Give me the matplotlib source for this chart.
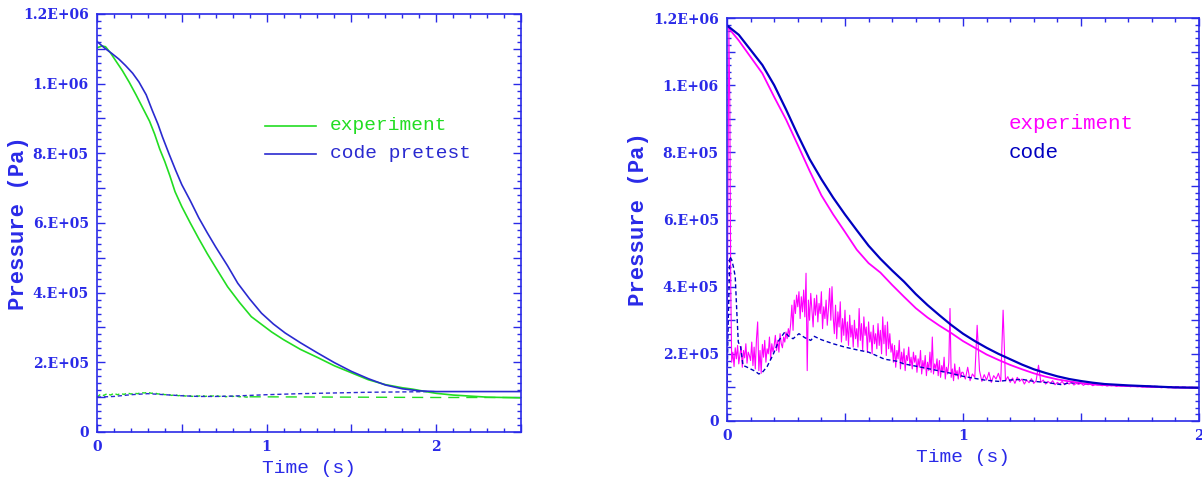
import numpy as np
import matplotlib
matplotlib.use("Agg")
import matplotlib.pyplot as plt
from matplotlib.ticker import MultipleLocator, FuncFormatter

AXC = '#2a2ae8'
GREEN = '#22dd22'
MAG = '#ff00ff'
BLUE_L = '#2a2ad0'
BLUE_R = '#0000c0'

# ---------------- left panel data (pressure in 1E5 Pa) ----------------
t_exp_l = [0, 0.03, 0.05, 0.08, 0.11, 0.15, 0.19, 0.23, 0.27, 0.31, 0.34, 0.37, 0.40,
           0.43, 0.46, 0.5, 0.55, 0.6, 0.65, 0.7, 0.77, 0.84, 0.91, 0.97, 1.03, 1.1,
           1.2, 1.3, 1.4, 1.5, 1.6, 1.7, 1.8, 1.86, 1.95, 2.0, 2.1, 2.2, 2.3, 2.4, 2.5]
p_exp_l = [11.03, 11.08, 11.06, 10.88, 10.66, 10.37, 10.04, 9.68, 9.3, 8.92, 8.55, 8.12,
           7.76, 7.35, 6.9, 6.47, 6.0, 5.55, 5.12, 4.72, 4.17, 3.72, 3.31, 3.09, 2.87,
           2.65, 2.37, 2.14, 1.9, 1.7, 1.5, 1.36, 1.27, 1.23, 1.15, 1.11, 1.06, 1.03,
           1.0, 0.99, 0.98]

t_code_l = [0, 0.045, 0.089, 0.13, 0.168, 0.21, 0.247, 0.29, 0.326, 0.36, 0.386, 0.425,
            0.464, 0.5, 0.55, 0.6, 0.65, 0.7, 0.77, 0.83, 0.9, 0.97, 1.04, 1.11, 1.2,
            1.3, 1.4, 1.5, 1.6, 1.7, 1.8, 1.9, 2.0, 2.5]
p_code_l = [11.21, 11.02, 10.86, 10.7, 10.52, 10.3, 10.05, 9.68, 9.23, 8.83, 8.47, 7.98,
            7.51, 7.1, 6.64, 6.15, 5.72, 5.31, 4.77, 4.27, 3.82, 3.41, 3.1, 2.84, 2.56,
            2.27, 1.99, 1.74, 1.53, 1.35, 1.24, 1.18, 1.16, 1.16]

# lower (downstream) traces, left
p_exp_low_l = [1.00, 1.08, 1.05, 1.10, 1.06, 1.11, 1.07, 1.10, 1.08, 1.12, 1.09,
               1.11, 1.10, 1.13, 1.12, 1.14,
               1.11, 1.12, 1.09, 1.10, 1.07,
               1.08, 1.05, 1.07, 1.04, 1.06,
               1.03, 1.05, 1.02, 1.04, 1.03,
               1.05, 1.02, 1.04, 1.03, 1.05,
               1.02, 1.04, 1.01, 1.03, 1.02,
               1.03, 1.01, 1.02, 1.00, 1.01]
t_exp_low_tail = [0.9, 1.5, 2.0, 2.5]
p_exp_low_tail = [1.01, 1.0, 0.99, 0.99]

t_code_low_l = [0, 0.1, 0.2, 0.3, 0.4, 0.5, 0.6, 0.7, 0.8, 0.9, 1.0, 1.2, 1.4, 1.6, 1.8, 2.0]
p_code_low_l = [1.0, 1.02, 1.07, 1.1, 1.07, 1.04, 1.02, 1.02, 1.03, 1.05, 1.07, 1.1, 1.12,
                1.14, 1.15, 1.16]

# ---------------- right panel data ----------------
t_main_r = [0, 0.05, 0.1, 0.15, 0.2, 0.25, 0.3, 0.35, 0.4, 0.45, 0.5, 0.55, 0.6, 0.65,
            0.7, 0.75, 0.8, 0.85, 0.9, 0.95, 1.0, 1.05, 1.1, 1.15, 1.2, 1.25, 1.3, 1.35,
            1.4, 1.45, 1.5, 1.55, 1.6, 1.7, 1.8, 1.9, 2.0]
p_code_r = [11.78, 11.5, 11.05, 10.6, 10.0, 9.28, 8.52, 7.8, 7.2, 6.65, 6.15, 5.68, 5.22,
            4.83, 4.48, 4.15, 3.78, 3.45, 3.15, 2.86, 2.6, 2.38, 2.18, 2.0, 1.84, 1.68,
            1.54, 1.43, 1.33, 1.25, 1.19, 1.14, 1.1, 1.06, 1.03, 1.0, 0.99]
p_exp_r = [11.76, 11.33, 10.84, 10.35, 9.65, 8.98, 8.22, 7.45, 6.72, 6.15, 5.63, 5.1, 4.7,
           4.42, 4.05, 3.7, 3.36, 3.08, 2.84, 2.62, 2.38, 2.18, 1.98, 1.82, 1.67, 1.54,
           1.42, 1.32, 1.24, 1.18, 1.13, 1.09, 1.07, 1.04, 1.02, 1.0, 0.99]

t_code_low_r = [0, 0.006, 0.012, 0.02, 0.027, 0.035, 0.042, 0.048, 0.058, 0.068, 0.08, 0.1,
                0.12, 0.135, 0.15, 0.17, 0.19, 0.2, 0.22, 0.245, 0.265, 0.28, 0.305, 0.33,
                0.355, 0.37, 0.4, 0.45, 0.5, 0.55, 0.6, 0.668, 0.72, 0.75, 0.81, 0.88, 0.95,
                1.0, 1.09, 1.15, 1.2, 1.25, 1.3, 1.35, 1.42, 1.45, 1.5, 1.6, 1.7, 1.8, 2.0]
p_code_low_r = [1.0, 3.2, 4.9, 4.8, 4.6, 4.3, 3.2, 2.35, 2.2, 1.65, 1.62, 1.55,
                1.48, 1.4, 1.45, 1.62, 1.9, 2.05, 2.4, 2.65, 2.5, 2.45, 2.6, 2.48,
                2.4, 2.52, 2.42, 2.3, 2.2, 2.12, 2.05, 1.84, 1.78, 1.7, 1.62, 1.52, 1.42,
                1.33, 1.22, 1.18, 1.22, 1.24, 1.18, 1.15, 1.08, 1.14, 1.12, 1.08, 1.05,
                1.03, 0.99]

# experiment downstream: initial spike, then samples every 5 ms to 1 s, every 10 ms to 2 s
t_spike = [0, 0.004, 0.008, 0.012, 0.016]
p_spike = [1.0, 6.5, 11.7, 9.5, 4.0]
p_exp_low_fast = [
    1.75, 2.05, 1.62, 2.18, 1.85, 2.25, 1.70, 1.98, 2.22, 1.60, 2.10, 1.88, 2.30, 1.72, 2.05, 1.95,
    1.80, 2.35, 1.65, 2.20, 1.55, 2.45, 2.95, 1.50, 2.10, 1.42, 2.28, 1.90, 2.40, 1.75, 2.15, 2.00,
    2.50, 1.85, 2.30, 2.05,
    2.25, 2.55, 2.10, 2.40, 2.05, 2.60, 2.30, 2.18, 2.50, 2.35, 2.65, 2.45, 2.75, 2.55,
    2.90, 3.45, 2.70, 3.60, 3.20, 3.75,
    3.40, 3.85, 3.05, 3.70, 3.25, 3.90, 3.10, 4.40, 1.50, 3.60, 3.00, 3.80, 3.30, 2.80, 3.65,
    3.15, 3.75, 2.95, 3.50, 3.20, 3.85, 2.75, 3.40, 3.05, 3.60, 2.85, 3.35, 3.95, 3.00, 4.00,
    3.10, 2.60, 3.45, 2.45, 3.25, 2.80, 3.55, 2.35, 3.05, 2.55, 3.30, 2.40, 2.95, 2.25, 3.15,
    2.50, 2.85, 2.20, 3.00, 2.45,
    2.75, 2.20, 3.35, 2.40, 2.90, 2.10, 3.10, 2.55, 2.80, 2.05, 2.95, 2.35, 2.65, 2.00, 2.85,
    2.30, 2.60, 2.15, 2.90, 2.25,
    2.70, 2.00, 3.10, 2.30, 2.85, 1.95, 2.95, 2.15, 2.60, 2.05,
    2.30, 1.75, 2.25, 1.60, 2.10, 1.85, 2.40, 1.55, 2.05, 1.70, 2.15, 1.50, 1.95, 1.80, 2.20,
    1.65, 1.90, 1.55, 2.05, 1.75,
    1.95, 1.45, 1.85, 1.60, 2.10, 1.40, 1.80, 1.55, 1.95, 1.35, 1.75, 1.50, 2.05, 1.45, 2.50,
    1.40, 1.70, 1.55, 1.85, 1.35,
    1.80, 1.30, 1.65, 1.45, 1.90, 1.25, 1.60, 1.40, 1.75, 3.35, 1.30, 1.55, 1.20, 1.70, 1.35,
    1.50, 1.25, 1.60, 1.30, 1.45]
p_exp_low_slow = [
    1.45, 1.25, 1.60, 1.20, 1.40, 1.30, 2.85, 1.50, 1.18, 1.38, 1.22, 1.45, 1.15, 1.35, 1.25,
    1.42, 1.18, 3.30, 1.20, 1.32,
    1.15, 1.28, 1.12, 1.30, 1.18, 1.25, 1.10, 1.22, 1.14, 1.26, 1.12, 1.20, 1.66, 1.15, 1.22,
    1.10, 1.18, 1.12, 1.20, 1.08,
    1.15, 1.10, 1.18, 1.08, 1.14, 1.10, 1.16, 1.07, 1.12, 1.09, 1.13, 1.06, 1.11, 1.08, 1.10,
    1.05, 1.09, 1.07, 1.08, 1.05,
    1.07, 1.04, 1.06, 1.05, 1.07, 1.03, 1.05, 1.04, 1.06, 1.03, 1.04, 1.02, 1.04, 1.03, 1.02,
    1.03, 1.01, 1.02, 1.01, 1.02,
    1.00, 1.01, 1.00, 1.01, 0.99, 1.00, 1.00, 0.99, 1.00, 0.99, 0.99, 1.00, 0.99, 0.99, 0.99,
    0.99, 0.99, 0.99, 0.99, 0.99, 0.99]

SCALE = 1e5

fig = plt.figure(figsize=(12.02, 4.88), dpi=100)
axL = fig.add_axes([0.0807, 0.1148, 0.3527, 0.8566])
axR = fig.add_axes([0.6048, 0.1373, 0.3927, 0.8258])


def ytick_fmt(v, pos):
    labels = {0: '0', 2: '2.E+05', 4: '4.E+05', 6: '6.E+05', 8: '8.E+05',
              10: '1.E+06', 12: '1.2E+06'}
    k = int(round(v / 1e5))
    return labels.get(k, '')


def xtick_fmt(v, pos):
    return '%d' % round(v) if abs(v - round(v)) < 1e-6 else ''


def style(ax, xmax, ylab_x):
    ax.set_xlim(0, xmax)
    ax.set_ylim(0, 1.2e6)
    for s in ax.spines.values():
        s.set_color(AXC)
        s.set_linewidth(1.2)
    ax.xaxis.set_major_locator(MultipleLocator(0.5))
    ax.xaxis.set_minor_locator(MultipleLocator(0.1))
    ax.yaxis.set_major_locator(MultipleLocator(1e5))
    ax.yaxis.set_minor_locator(MultipleLocator(2e4))
    ax.xaxis.set_major_formatter(FuncFormatter(xtick_fmt))
    ax.yaxis.set_major_formatter(FuncFormatter(ytick_fmt))
    ax.tick_params(which='both', direction='in', top=True, right=True, colors=AXC,
                   labelcolor=AXC, width=1.0)
    ax.tick_params(which='major', length=6, pad=6)
    ax.tick_params(which='minor', length=3)
    for lab in ax.get_xticklabels() + ax.get_yticklabels():
        lab.set_fontfamily('DejaVu Serif')
        lab.set_fontweight('bold')
        lab.set_fontsize(10)
    ax.set_xlabel('Time (s)', family='Liberation Mono', fontsize=14, color=AXC, labelpad=4)
    ax.set_ylabel('Pressure (Pa)', family='Liberation Mono', fontweight='bold',
                  fontsize=16, color=AXC)
    ax.yaxis.set_label_coords(ylab_x, 0.5)


# ---- left ----
t_low_l = np.linspace(0, 0.9, len(p_exp_low_l))
axL.plot(t_low_l, np.array(p_exp_low_l) * SCALE, color=GREEN, lw=1.0, dashes=(3, 2))
axL.plot(t_exp_low_tail, np.array(p_exp_low_tail) * SCALE, color=GREEN, lw=1.0, dashes=(8, 5))
axL.plot(t_code_low_l, np.array(p_code_low_l) * SCALE, color=BLUE_L, lw=1.0, dashes=(3, 2))
axL.plot(t_exp_l, np.array(p_exp_l) * SCALE, color=GREEN, lw=1.2)
axL.plot(t_code_l, np.array(p_code_l) * SCALE, color=BLUE_L, lw=1.2)
style(axL, 2.5, -0.16)

axL.plot([0.396, 0.517], [0.733, 0.733], transform=axL.transAxes, color=GREEN, lw=1.2)
axL.plot([0.396, 0.517], [0.666, 0.666], transform=axL.transAxes, color=BLUE_L, lw=1.2)
axL.text(0.55, 0.733, 'experiment', transform=axL.transAxes, color=GREEN,
         family='Liberation Mono', fontsize=14, va='center')
axL.text(0.55, 0.666, 'code pretest', transform=axL.transAxes, color=BLUE_L,
         family='Liberation Mono', fontsize=14, va='center')

# ---- right ----
t_fast = np.linspace(0.02, 0.995, len(p_exp_low_fast))
t_slow = np.linspace(1.0, 2.0, len(p_exp_low_slow))
t_low_r = np.concatenate([t_spike, t_fast, t_slow])
p_low_r = np.concatenate([p_spike, p_exp_low_fast, p_exp_low_slow]) * SCALE
axR.plot(t_low_r, p_low_r, color=MAG, lw=0.8)
axR.plot(t_code_low_r, np.array(p_code_low_r) * SCALE, color=BLUE_R, lw=1.0, dashes=(3, 2))
axR.plot(t_main_r, np.array(p_exp_r) * SCALE, color=MAG, lw=1.3)
axR.plot(t_main_r, np.array(p_code_r) * SCALE, color=BLUE_R, lw=1.6)
style(axR, 2.0, -0.165)

axR.text(0.597, 0.737, 'experiment', transform=axR.transAxes, color=MAG,
         family='Liberation Mono', fontsize=15, va='center')
axR.text(0.597, 0.667, 'code', transform=axR.transAxes, color=BLUE_R,
         family='Liberation Mono', fontsize=15, va='center')

fig.savefig('out.png', dpi=100, facecolor='white')
